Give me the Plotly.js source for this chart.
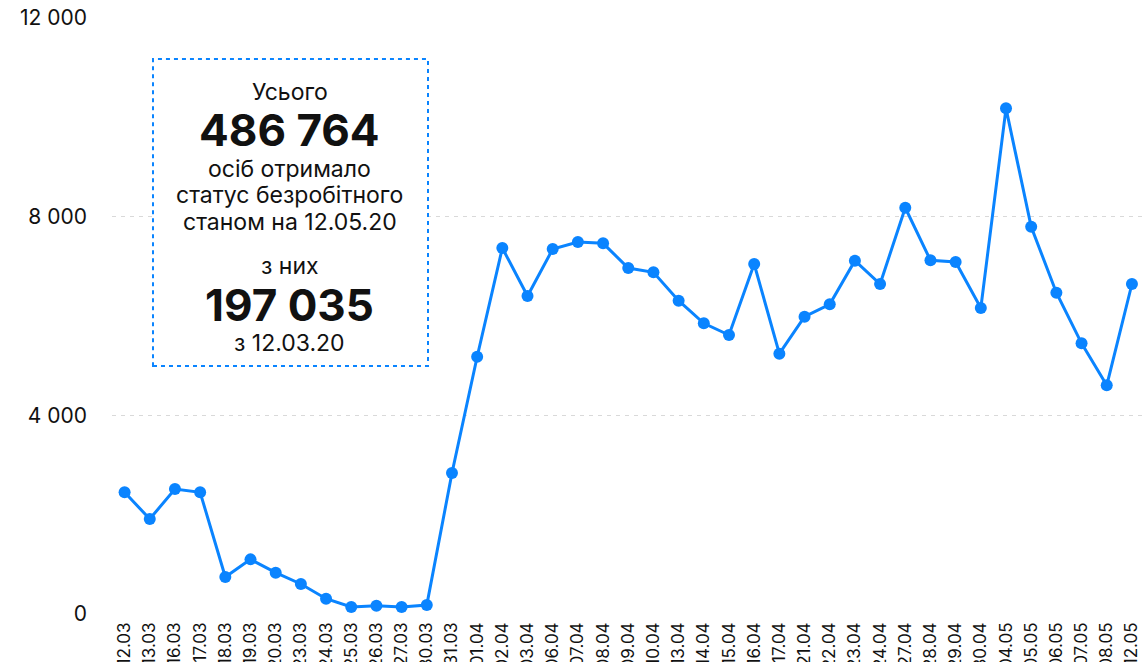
<!DOCTYPE html>
<html>
<head>
<meta charset="utf-8">
<script src="https://cdn.plot.ly/plotly-3.0.1.min.js"></script>
<style>html,body{margin:0;padding:0;background:#fff}#chart{width:1142px;height:662px}</style>
</head>
<body>
<div id="chart"></div>
<script>
const dates = ["12.03","13.03","16.03","17.03","18.03","19.03","20.03","23.03","24.03","25.03","26.03","27.03","30.03","31.03","01.04","02.04","03.04","06.04","07.04","08.04","09.04","10.04","13.04","14.04","15.04","16.04","17.04","21.04","22.04","23.04","24.04","27.04","28.04","29.04","30.04","04.05","05.05","06.05","07.05","08.05","12.05"];
const unemployed = [2450,1913,2517,2450,745,1100,832,604,308,141,167,141,181,2839,5180,7369,6402,7348,7489,7463,6966,6879,6308,5853,5617,7047,5241,5986,6235,7113,6644,8180,7121,7087,6161,10181,7798,6469,5450,4604,6644];
const yTickVals = [0,4000,8000,12000];
const yTickText = ["0","4 000","8 000","12 000"];
const boxLines = [
  {text:"Усього", bold:false},
  {text:"486 764", bold:true},
  {text:"осіб отримало", bold:false},
  {text:"статус безробітного", bold:false},
  {text:"станом на 12.05.20", bold:false},
  {text:"з них", bold:false},
  {text:"197 035", bold:true},
  {text:"з 12.03.20", bold:false}
];
const boxLineY = [0.8758,0.8121,0.7466,0.7030,0.6577,0.5839,0.5185,0.4547];

const FONT = "Inter, 'Noto Sans', sans-serif";
const BLUE = "#0a84ff";

const annotations = boxLines.map((l,i)=>({
  xref:"paper", yref:"paper", x:0.1728, y:boxLineY[i],
  xanchor:"center", yanchor:"middle", showarrow:false,
  text: l.bold ? "<b>"+l.text+"</b>" : l.text,
  font:{family:FONT, size: l.bold?44:23, color:"#111"}
}));

const trace = {
  x: dates, y: unemployed, type:"scatter", mode:"lines+markers",
  line:{color:BLUE, width:3},
  marker:{color:BLUE, size:12},
  hoverinfo:"x+y"
};

const layout = {
  width:1142, height:662,
  margin:{l:112, r:0, t:18, b:48},
  paper_bgcolor:"#fff", plot_bgcolor:"#fff",
  showlegend:false,
  font:{family:FONT, color:"#111"},
  xaxis:{
    type:"category", range:[-0.5,40.4],
    showgrid:false, showline:false, zeroline:false,
    tickangle:-90, tickfont:{size:17, color:"#111", family:FONT},
    ticks:"", ticklabelstandoff:4, automargin:false
  },
  yaxis:{
    range:[0,12000], tickvals:yTickVals, ticktext:yTickText,
    showgrid:true, gridcolor:"#d9d9d9", gridwidth:1.5, griddash:"4px,5px",
    zeroline:false, showline:false, ticks:"",
    tickfont:{size:21, color:"#111", family:FONT},
    ticklabelstandoff:24, automargin:false
  },
  shapes:[{
    type:"rect", xref:"paper", yref:"paper",
    x0:0.0398, x1:0.3068, y0:0.416, y1:0.931,
    line:{color:BLUE, width:2, dash:"4px,4px"}, fillcolor:"rgba(255,255,255,1)", layer:"above"
  }],
  annotations: annotations
};

Plotly.newPlot("chart",[trace],layout,{displayModeBar:false, staticPlot:true});
</script>
</body>
</html>
